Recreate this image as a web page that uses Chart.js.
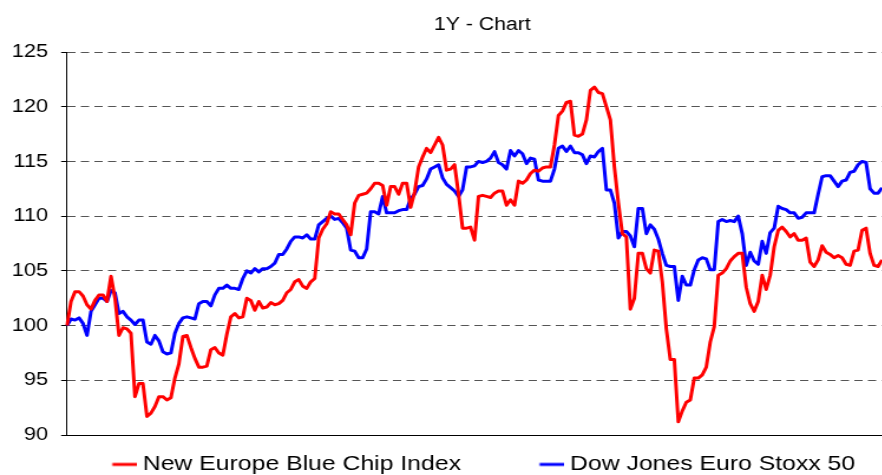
<!DOCTYPE html>
<html>
<head>
<meta charset="utf-8">
<script src="https://cdn.jsdelivr.net/npm/chart.js@4/dist/chart.umd.min.js"></script>
<style>
html, body { margin: 0; padding: 0; background: #fff; overflow: hidden; width: 882px; height: 475px; }
#wrap { position: absolute; left: 0; top: 0; transform: scaleX(1.18); transform-origin: 0 0; }
canvas { display: block; }
</style>
</head>
<body>
<div id="wrap"><canvas id="c" width="789" height="475"></canvas></div>
<script>
const chartTitle = '1Y - Chart';
const seriesNames = ['New Europe Blue Chip Index', 'Dow Jones Euro Stoxx 50'];
const yTicks = [90, 95, 100, 105, 110, 115, 120, 125];

const newEurope = [
  100, 102.2, 103.1, 103.1, 102.7, 101.9, 101.5, 102.3, 102.8, 102.8,
  102.2, 104.5, 102.5, 99.1, 99.8, 99.7, 99.3, 93.5, 94.7, 94.7,
  91.7, 92, 92.6, 93.5, 93.5, 93.2, 93.4, 95.2, 96.5, 99,
  99.1, 98, 97, 96.2, 96.2, 96.3, 97.8, 98, 97.5, 97.3,
  99.2, 100.8, 101.1, 100.7, 100.8, 102.5, 102.3, 101.4, 102.2, 101.6,
  101.7, 102.1, 101.9, 102, 102.3, 103, 103.3, 104, 104.2, 103.6,
  103.4, 104, 104.3, 108, 108.8, 109.3, 110.4, 110.2, 110.2, 109.7,
  109.2, 108.3, 111.2, 111.9, 112, 112.1, 112.5, 113, 113, 112.8,
  111, 112.7, 112.7, 112, 113, 113, 110.8, 112.2, 114.5, 115.4,
  116.2, 115.8, 116.5, 117.2, 116.5, 114.2, 114.3, 114.7, 112, 108.9,
  108.9, 109, 107.8, 111.8, 111.9, 111.8, 111.7, 112.1, 112.3, 112.3,
  111, 111.5, 111, 113.2, 113, 113.3, 113.9, 114.2, 114.1, 114.4,
  114.5, 114.5, 116.5, 119.2, 119.6, 120.4, 120.5, 117.4, 117.3, 117.5,
  118.8, 121.5, 121.8, 121.3, 121.2, 120, 118.8, 114.5, 111.2, 108.4,
  108.1, 101.5, 102.5, 106.6, 106.6, 105.2, 104.8, 106.9, 106.8, 104,
  99.7, 96.9, 96.9, 91.2, 92.2, 93, 93.2, 95.2, 95.2, 95.5,
  96.2, 98.5, 99.9, 104.6, 104.8, 105.2, 105.9, 106.3, 106.6, 106.6,
  103.5, 102, 101.3, 102.2, 104.6, 103.3, 104.6, 107.2, 108.7, 109,
  108.6, 108.1, 108.4, 107.8, 107.8, 108, 105.8, 105.4, 106, 107.3,
  106.7, 106.5, 106.2, 106.4, 106.2, 105.6, 105.5, 106.8, 106.9, 108.7,
  108.9, 106.6, 105.5, 105.4, 106
];

const euroStoxx = [
  100, 100.6, 100.5, 100.7, 100.2, 99.1, 101.3, 101.9, 102.5, 102.5,
  102.2, 103.2, 103, 101.1, 101.3, 100.8, 100.5, 100.1, 100.5, 100.5,
  98.5, 98.3, 99.1, 98.6, 97.6, 97.4, 97.5, 99.3, 100.2, 100.7,
  100.8, 100.7, 100.6, 102, 102.2, 102.2, 101.8, 102.8, 103.4, 103.4,
  103.7, 103.4, 103.4, 103.3, 104.3, 105, 104.8, 105.2, 104.9, 105.2,
  105.2, 105.4, 105.7, 106.5, 106.5, 107, 107.7, 108.1, 108.1, 108,
  108.3, 107.9, 107.9, 109.2, 109.5, 109.8, 110, 109.7, 109.8, 109.4,
  108.9, 106.9, 106.8, 106.2, 106.2, 107, 110.4, 110.4, 110.2, 111.8,
  110.3, 110.3, 110.3, 110.5, 110.6, 110.6, 111.6, 112, 112.7, 112.8,
  113.4, 114.3, 114.5, 114.7, 113.5, 112.9, 112.6, 112.3, 111.8, 112.4,
  114.5, 114.5, 114.6, 115, 114.9, 115, 115.3, 115.9, 114.9, 114.7,
  114.3, 116, 115.5, 116, 115.7, 114.8, 115.3, 115.2, 113.3, 113.2,
  113.2, 113.2, 114.3, 116.2, 116.4, 115.9, 116.4, 115.8, 115.8, 115.6,
  114.8, 115.5, 115.4, 115.9, 116.2, 112.4, 112.4, 111.2, 108, 108.6,
  108.6, 108.2, 107.2, 110.7, 110.7, 108.4, 109.2, 108.8, 107.9, 106.6,
  105.5, 105.4, 105.4, 102.3, 104.5, 103.7, 103.7, 105.1, 106, 106.2,
  106.1, 105.1, 105.1, 109.5, 109.7, 109.5, 109.6, 109.5, 110, 108.4,
  105.5, 106.7, 105.9, 105.6, 107.7, 106.6, 108.5, 108.9, 110.9, 110.7,
  110.6, 110.3, 110.3, 109.8, 109.9, 110.3, 110.3, 110.3, 112, 113.6,
  113.7, 113.7, 113.2, 112.7, 113.2, 113.3, 114, 114.1, 114.7, 115,
  114.9, 112.5, 112.1, 112.1, 112.6
];

const tradingDays = newEurope.map((_, i) => i + 1);

const seriesColors = ['#FF0000', '#0000FF'];

function legendMarker(color) {
  const c = document.createElement('canvas');
  c.width = 92; c.height = 6;
  const g = c.getContext('2d');
  g.strokeStyle = color; g.lineWidth = 3;
  g.beginPath(); g.moveTo(71.6, 3); g.lineTo(92, 3); g.stroke();
  return c;
}
const markers = seriesColors.map(legendMarker);

// let the y tick labels extend past the (narrow) scale box instead of being clipped
const unclipYLabels = {
  id: 'unclipYLabels',
  beforeDraw(chart) {
    const s = chart.scales.y;
    if (s) s._computeLabelArea = function () { return undefined; };
  }
};

Chart.defaults.font.family = '"Liberation Sans", Arial, sans-serif';
Chart.defaults.color = '#000';

new Chart(document.getElementById('c'), {
  type: 'line',
  data: {
    labels: tradingDays,
    datasets: [
      { label: seriesNames[0], data: newEurope, borderColor: seriesColors[0], backgroundColor: seriesColors[0],
        borderWidth: 3, pointRadius: 0, tension: 0, fill: false, borderJoinStyle: 'round', yAxisID: 'y' },
      { label: seriesNames[1], data: euroStoxx, borderColor: seriesColors[1], backgroundColor: seriesColors[1],
        borderWidth: 3, pointRadius: 0, tension: 0, fill: false, borderJoinStyle: 'round', yAxisID: 'y' }
    ]
  },
  plugins: [unclipYLabels],
  options: {
    responsive: false,
    animation: false,
    devicePixelRatio: 1,
    layout: { padding: { left: 28.6, right: 0, top: 0, bottom: -9.9 } },
    plugins: {
      title: {
        display: true, text: chartTitle, color: '#000',
        font: { size: 18, weight: 'normal' },
        padding: { top: 14, bottom: 16.4 }
      },
      legend: {
        position: 'bottom', align: 'start',
        labels: {
          color: '#000', font: { size: 21 }, padding: 0,
          usePointStyle: true, pointStyleWidth: 81.9,
          generateLabels(chart) {
            const items = Chart.defaults.plugins.legend.labels.generateLabels(chart);
            items.forEach((it, i) => { it.pointStyle = markers[i]; it.fontColor = '#000'; });
            return items;
          }
        }
      },
      tooltip: { enabled: false }
    },
    scales: {
      x: {
        type: 'category', offset: false,
        ticks: { display: false },
        grid: { display: true, drawOnChartArea: false, drawTicks: false },
        border: { display: true, color: '#000', width: 1 },
        afterFit(s) { s.height = 18.9; }
      },
      y: {
        position: 'left', min: 90, max: 125,
        afterBuildTicks(s) { s.ticks = yTicks.map(v => ({ value: v })); },
        ticks: { color: '#000', font: { size: 18.5 }, padding: 11 },
        grid: { color: '#555', lineWidth: 1, tickLength: 5, tickColor: '#000', tickWidth: 1, tickBorderDash: [] },
        border: { display: true, color: '#000', width: 1, dash: [7, 4.5] },
        afterFit(s) { s.width = 28.2; }
      },
      y2: {
        position: 'right', display: true,
        ticks: { display: false },
        grid: { display: false },
        border: { display: false },
        afterFit(s) { s.width = 41.5; }
      }
    }
  }
});
</script>
</body>
</html>
